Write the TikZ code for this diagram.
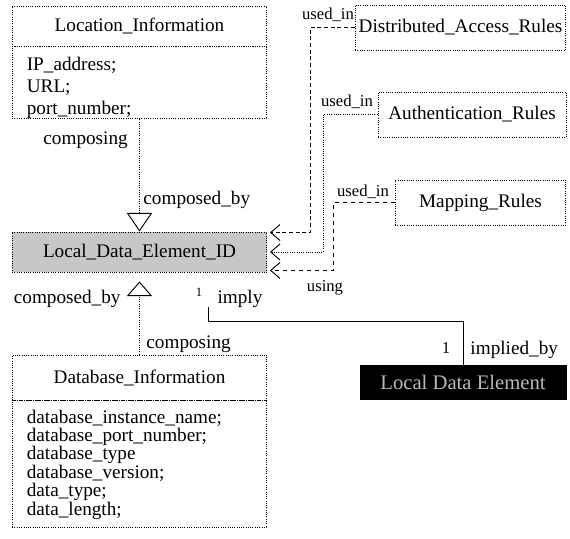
\documentclass[tikz,border=0pt]{standalone}
\usepackage{fontspec}
\setmainfont{Liberation Serif}
\usetikzlibrary{arrows.meta,positioning,calc}

\begin{document}
\begin{tikzpicture}[
  x=0.75pt, y=-0.75pt, line width=0.7pt,
  hdr/.style={draw, densely dotted, minimum width=191pt, inner sep=0pt, font=\fontsize{14.4}{16}\selectfont},
  attrs/.style={draw, densely dotted, minimum width=191pt, text width=169pt, align=left, inner sep=0pt},
  rulebox/.style={draw, densely dotted, minimum height=33.75pt, inner sep=1pt, font=\fontsize{14.4}{16}\selectfont},
  lab/.style={font=\fontsize{14.4}{16}\selectfont, inner sep=0pt},
  sml/.style={font=\fontsize{12.5}{14}\selectfont, inner sep=0pt},
  tiny/.style={font=\fontsize{9.5}{10}\selectfont, inner sep=0pt},
  comp/.style={densely dotted, -{Triangle[open,length=14pt,width=19pt]}},
  usedin/.style={-{Straight Barb[length=7pt,width=12pt]}, shorten >=2pt}
]
\useasboundingbox (0,0) rectangle (570,538);

% classes on the left
\node[hdr, minimum height=30pt] (lochead) at (139.5,26) {Location\_Information};
\node[attrs, minimum height=54pt, below=0pt of lochead, font=\fontsize{14.4}{16.5}\selectfont] (locattr)
  {\rule{0pt}{17pt}IP\_address;\\URL;\\port\_number;};
\node[hdr, minimum height=30pt, fill=black!22] (ldeid) at (139.5,252) {Local\_Data\_Element\_ID};
\node[hdr, minimum height=33.75pt] (dbhead) at (139.5,377.5) {Database\_Information};
\node[attrs, minimum height=95.25pt, below=0pt of dbhead, font=\fontsize{14.4}{13.8}\selectfont] (dbattr)
  {database\_instance\_name;\\database\_port\_number;\\database\_type\\database\_version;\\data\_type;\\data\_length;};

% rules and the element
\node[rulebox, minimum width=158pt] (dar) at (460.5,27.5) {Distributed\_Access\_Rules};
\node[rulebox, minimum width=141pt] (auth) at (472,114.5) {Authentication\_Rules};
\node[rulebox, minimum width=128pt] (map) at (480.5,202.5) {Mapping\_Rules};
\node[draw, fill=black, text=gray!55, minimum width=154.5pt, minimum height=26pt,
  font=\fontsize{15.5}{17}\selectfont] (lde) at (463,382.5) {Local Data Element};

% composition
\draw[comp] (locattr.south) -- (ldeid.north);
\draw[densely dotted, -{Triangle[open,length=11pt,width=19pt]}, shorten >=6.75pt] (dbhead.north) -- (ldeid.south);
\node[lab, anchor=west] (cp1) at (43,140) {composing};
\node[lab, anchor=west] (cb1) at (143,200) {composed\_by};
\node[lab, anchor=east] (cb2) at (121,299) {composed\_by};
\node[lab, anchor=west] (cp2) at (146,344) {composing};

% rules used in
\draw[usedin, dash pattern=on 3pt off 2pt] (dar.west) -| ([xshift=32.25pt,yshift=-0.75pt]ldeid.north east)
  -- ([yshift=-0.75pt]ldeid.north east);
\draw[usedin, densely dotted] (auth.west) -| ([xshift=42pt]ldeid.east) -- (ldeid.east);
\draw[usedin, dashed] (map.west) -| ([xshift=49.5pt,yshift=1.5pt]ldeid.south east)
  -- ([yshift=1.5pt]ldeid.south east);
\node[sml] (u1) at (328,15) {used\_in};
\node[sml] (u2) at (347,102) {used\_in};
\node[sml] (u3) at (363,192) {used\_in};
\node[sml] (usg) at (325,288) {using};

% imply
\draw ([xshift=51.4pt,yshift=-26pt]ldeid.south) -- ++(0,14) -| (lde.north);
\node[tiny] (m1) at (199,292) {1};
\node[lab] (imp) at (240,299) {imply};
\node[sml] (m2) at (446,348) {1};
\node[lab, anchor=west] (impby) at (470,350) {implied\_by};
\end{tikzpicture}
\end{document}
